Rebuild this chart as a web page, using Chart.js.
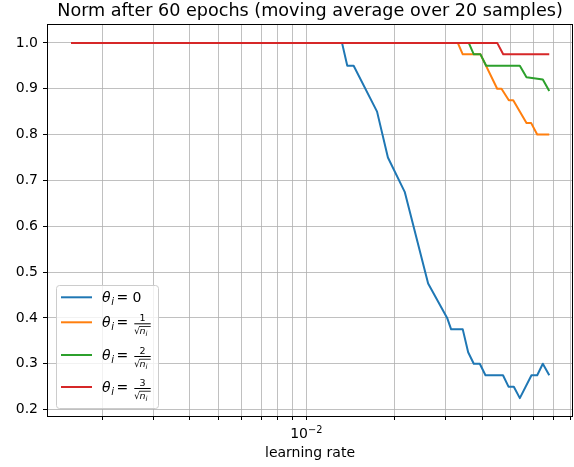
<!DOCTYPE html>
<html lang="en">
<head>
<meta charset="UTF-8">
<title>Norm after 60 epochs</title>
<script src="https://cdn.jsdelivr.net/npm/chart.js"></script>
<style>
  body { margin: 0; background: #fff; }
  canvas { display: block; }
</style>
</head>
<body>
<canvas id="normChart" width="574" height="467"></canvas>
<script>
const titleText = 'Norm after 60 epochs (moving average over 20 samples)';
const xTitle = 'learning rate';

// axis ticks (log x: every integer multiple, only 1e-2 labelled)
const xTickValues = [0.002, 0.003, 0.004, 0.005, 0.006, 0.007, 0.008, 0.009,
                     0.01, 0.02, 0.03, 0.04, 0.05, 0.06, 0.07, 0.08];
const xLabelledTick = 0.01;
const yTickValues = [0.2, 0.3, 0.4, 0.5, 0.6, 0.7, 0.8, 0.9, 1.0];

// theta_i = 0
const lrBlue   = [0.001567, 0.01325, 0.01381, 0.01452, 0.01746, 0.01902, 0.02171, 0.02611,
                  0.03033, 0.03130, 0.03430, 0.03579, 0.03741, 0.03922, 0.04102, 0.04709,
                  0.04918, 0.05128, 0.05377, 0.05894, 0.06166, 0.06444, 0.0678];
const normBlue = [1.0, 1.0, 0.95, 0.95, 0.85, 0.75, 0.675, 0.475,
                  0.4, 0.375, 0.375, 0.325, 0.3, 0.3, 0.275, 0.275,
                  0.25, 0.25, 0.225, 0.275, 0.275, 0.3, 0.275];

// theta_i = 1/sqrt(n_i)
const lrOrange   = [0.001567, 0.03298, 0.03430, 0.03944, 0.04499, 0.04654, 0.04930, 0.05104,
                    0.05667, 0.05881, 0.06166, 0.0678];
const normOrange = [1.0, 1.0, 0.975, 0.975, 0.9, 0.9, 0.875, 0.875,
                    0.825, 0.825, 0.8, 0.8];

// theta_i = 2/sqrt(n_i)
const lrGreen   = [0.001567, 0.03596, 0.03741, 0.03944, 0.04125, 0.05377, 0.05667, 0.06002,
                   0.06444, 0.0678];
const normGreen = [1.0, 1.0, 0.975, 0.975, 0.95, 0.95, 0.925, 0.923,
                   0.92, 0.895];

// theta_i = 3/sqrt(n_i)
const lrRed   = [0.001567, 0.04499, 0.04717, 0.0678];
const normRed = [1.0, 1.0, 0.975, 0.975];

const seriesColors = ['#1f77b4', '#ff7f0e', '#2ca02c', '#d62728'];
const legendNumerators = [null, '1', '2', '3'];

const FONT = '"DejaVu Sans", sans-serif';

function toPoints(xs, ys) {
  return xs.map((x, i) => ({ x: x, y: ys[i] }));
}

function makeDataset(xs, ys, idx) {
  return {
    data: toPoints(xs, ys),
    borderColor: seriesColors[idx],
    backgroundColor: seriesColors[idx],
    borderWidth: 2,
    pointRadius: 0,
    tension: 0,
    borderJoinStyle: 'round',
    order: 4 - idx   // later series drawn on top
  };
}

// theta_i = ... label, drawn as small math: theta, subscript i, and a fraction over sqrt(n_i)
function drawThetaLabel(ctx, x, y, num) {
  const base = y + 5;
  ctx.fillStyle = '#000';
  ctx.textAlign = 'left';
  ctx.textBaseline = 'alphabetic';
  ctx.font = 'italic 14px ' + FONT;
  ctx.fillText('θ', x - 1, base);
  ctx.font = 'italic 10px ' + FONT;
  ctx.fillText('i', x + 8.2, base + 3);
  ctx.font = '14px ' + FONT;
  ctx.fillText('=', x + 13.4, base);
  if (num === null) {
    ctx.fillText('0', x + 29.4, base);
    return;
  }
  const fx = x + 31.3, fw = 16.4, bar = y + 1.5;
  ctx.fillRect(fx, bar - 0.5, fw, 1);
  ctx.font = '9.5px ' + FONT;
  ctx.textAlign = 'center';
  ctx.fillText(num, fx + fw / 2, bar - 3);
  ctx.textAlign = 'left';
  ctx.fillText('√', fx - 0.3, bar + 10.5);
  ctx.font = 'italic 9.5px ' + FONT;
  ctx.fillText('n', fx + 5.2, bar + 10);
  ctx.font = 'italic 7px ' + FONT;
  ctx.fillText('i', fx + 11.2, bar + 12);
  ctx.fillRect(fx + 5, bar + 2.3, fw - 5, 0.8);
}

const decorations = {
  id: 'decorations',
  afterDatasetsDraw(chart) {
    const { ctx, chartArea: a } = chart;
    ctx.save();
    ctx.strokeStyle = '#000';
    ctx.lineWidth = 1;
    ctx.strokeRect(a.left - 0.5, a.top - 0.5, a.right - a.left + 1, a.bottom - a.top + 1);
    ctx.restore();
  },
  afterDraw(chart) {
    const { ctx, chartArea: a } = chart;
    ctx.save();
    // title centred over the axes
    ctx.fillStyle = '#000';
    ctx.font = '17.6px ' + FONT;
    ctx.textAlign = 'center';
    ctx.textBaseline = 'alphabetic';
    ctx.fillText(titleText, (a.left + a.right) / 2, 16);

    // 10^-2 tick label with a real superscript
    const tx = chart.scales.x.getPixelForValue(xLabelledTick);
    ctx.font = '14px ' + FONT;
    const wBase = ctx.measureText('10').width;
    ctx.font = '9.8px ' + FONT;
    const wSup = ctx.measureText('−2').width;
    const x0 = tx - (wBase + wSup) / 2;
    ctx.textAlign = 'left';
    ctx.font = '14px ' + FONT;
    ctx.fillText('10', x0, a.bottom + 22.3);
    ctx.font = '9.8px ' + FONT;
    ctx.fillText('−2', x0 + wBase, a.bottom + 16.8);

    // legend box, lower left
    const bx = a.left + 8, bw = 102, bh = 123, by = a.bottom - 8 - bh;
    ctx.beginPath();
    ctx.roundRect(bx + 0.5, by + 0.5, bw, bh, 3);
    ctx.fillStyle = 'rgba(255,255,255,0.8)';
    ctx.fill();
    ctx.strokeStyle = '#cccccc';
    ctx.lineWidth = 1;
    ctx.stroke();
    const rowY = [by + 12.3, by + 37.3, by + 70, by + 102];
    seriesColors.forEach((c, i) => {
      ctx.strokeStyle = c;
      ctx.lineWidth = 2;
      ctx.beginPath();
      ctx.moveTo(bx + 5, rowY[i]);
      ctx.lineTo(bx + 36, rowY[i]);
      ctx.stroke();
      drawThetaLabel(ctx, bx + 47, rowY[i], legendNumerators[i]);
    });
    ctx.restore();
  }
};

new Chart(document.getElementById('normChart'), {
  type: 'line',
  data: {
    datasets: [
      makeDataset(lrBlue, normBlue, 0),
      makeDataset(lrOrange, normOrange, 1),
      makeDataset(lrGreen, normGreen, 2),
      makeDataset(lrRed, normRed, 3)
    ]
  },
  options: {
    responsive: false,
    devicePixelRatio: 1,
    animation: false,
    layout: { padding: { top: 25, right: 2, left: 0, bottom: 0 } },
    plugins: {
      legend: { display: false },
      title: { display: false },
      tooltip: { enabled: false }
    },
    scales: {
      x: {
        type: 'logarithmic',
        min: 0.001307,
        max: 0.0811,
        afterBuildTicks: s => { s.ticks = xTickValues.map(v => ({ value: v })); },
        afterFit: s => { s.height = 51; },
        ticks: {
          autoSkip: false,
          maxRotation: 0,
          padding: 2,
          color: '#000',
          font: { family: FONT, size: 14 },
          callback: () => ''   // the single labelled tick is drawn by the plugin
        },
        grid: { color: '#b0b0b0', lineWidth: 0.8, tickLength: 4, tickColor: '#000', tickWidth: 1 },
        border: { display: false },
        title: {
          display: true,
          text: xTitle,
          color: '#000',
          font: { family: FONT, size: 14 },
          padding: { top: 0, bottom: 5 }
        }
      },
      y: {
        type: 'linear',
        min: 0.186,
        max: 1.039,
        bounds: 'data',
        afterBuildTicks: s => { s.ticks = yTickValues.map(v => ({ value: v })); },
        afterFit: s => { s.width = 48; },
        ticks: {
          padding: 5,
          color: '#000',
          font: { family: FONT, size: 14 },
          callback: v => v.toFixed(1)
        },
        grid: { color: '#b0b0b0', lineWidth: 0.8, tickLength: 5, tickColor: '#000', tickWidth: 1 },
        border: { display: false }
      }
    }
  },
  plugins: [decorations]
});
</script>
</body>
</html>
